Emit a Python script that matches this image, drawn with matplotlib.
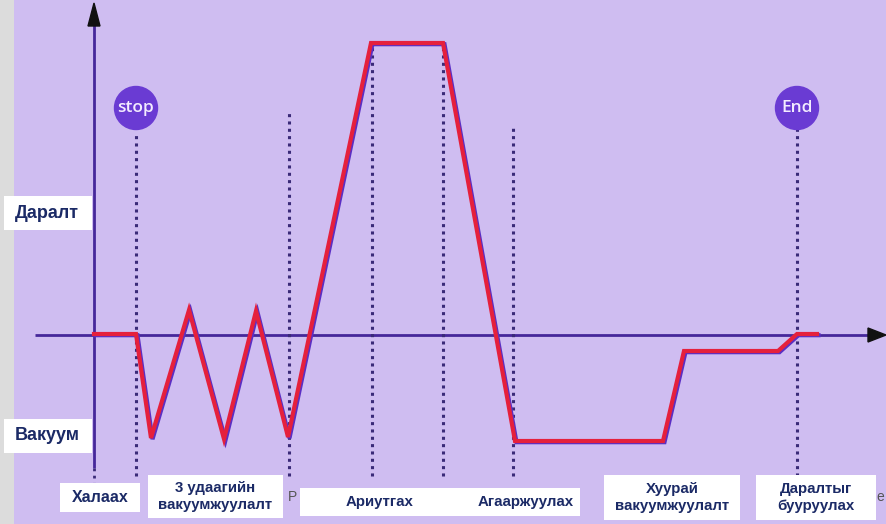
import matplotlib
matplotlib.use("Agg")
import matplotlib.pyplot as plt
from matplotlib.patches import Circle, Rectangle, Polygon

# ---- data (time axis units, pressure relative to atmospheric) ----
time = [0, 42, 57, 95, 130, 162, 194, 277, 349, 421, 569, 590, 684, 703, 723]
pressure = [0, 0, -104, 24, -105, 23, -103, 291, 291, -107, -107, -17, -17, 0, 0]

# phase boundaries (dotted lines): (time, top pressure)
phase_times = [42, 195, 278, 349, 419, 703]
phase_tops = [201, 224, 291, 291, 207, 206]
dotted_bottom = -142

markers = [("stop", 42), ("End", 703)]
marker_level = 226

y_labels = [("Даралт", 121), ("Вакуум", -102)]

# bottom phase labels: (text, box left, box right, box top, box bottom, fontsize)
phase_labels = [
    ("Халаах", -34, 46, -149, -178, 11.5),
    ("3 удаагийн\nвакуумжуулалт", 54, 189, -141, -184, 10.8),
    ("Хуурай\nвакуумжуулалт", 510, 646, -141, -186, 10.8),
    ("Даралтыг\nбууруулах", 662, 782, -141, -186, 10.8),
]
wide_box = (206, 486, -154, -182)
wide_texts = [("Ариутгах", 286), ("Агааржуулах", 432)]

BG = "#cfbdf1"
AXIS = "#46279a"
RED = "#e5203c"
SHADOW = "#5b2fc4"
NAVY = "#1b2a66"
DOT = "#3a2a78"
CIRC = "#6a3bd3"

fig = plt.figure(figsize=(8.86, 5.24), dpi=100)
fig.patch.set_facecolor(BG)
ax = fig.add_axes([0, 0, 1, 1])
ax.set_facecolor(BG)
ax.set_xlim(-94, 792)
ax.set_ylim(-190, 334)
ax.axis("off")

# gray strip at left
ax.add_patch(Rectangle((-94, -190), 14, 524, color="#dcdcdc", zorder=0, lw=0))

# axes lines
ax.plot([-59, 775], [-1, -1], color=AXIS, lw=2, zorder=2, solid_capstyle="butt")
ax.add_patch(Polygon([[774, 6], [774, -8], [792, -1]], closed=True, color="#111111", zorder=3))
ax.plot([0, 0], [-134, 310], color=AXIS, lw=2, zorder=2, solid_capstyle="butt")
ax.plot([0, 0], [-134, -150], color=DOT, lw=2, ls=(0, (1, 1.6)), zorder=2)
ax.add_patch(Polygon([[-6, 308], [6, 308], [0, 331]], closed=True, color="#111111", zorder=3))

# dotted phase lines
for t, top in zip(phase_times, phase_tops):
    ax.plot([t, t], [dotted_bottom, top], color=DOT, lw=2.2, ls=(0, (1, 1.4)), zorder=2)

# pressure curve with shadow
ax.plot([t + 1.5 for t in time], [p - 1.2 for p in pressure], color=SHADOW, lw=3.0,
        zorder=3, solid_joinstyle="miter")
ax.plot(time, pressure, color=RED, lw=3.0, zorder=4, solid_joinstyle="miter")

# stop / End markers
for txt, t in markers:
    ax.add_patch(Circle((t, marker_level), 21.5, color=CIRC, zorder=5))
    ax.text(t, marker_level, txt, color="#f3ecff", fontsize=12.5, ha="center", va="center",
            family="Open Sans", fontweight="semibold", zorder=6)

# y labels with white boxes
for txt, p in y_labels:
    ax.add_patch(Rectangle((-90, p - 17), 88, 34, color="white", zorder=5, lw=0))
    ax.text(-79, p, txt, color=NAVY, fontsize=13, fontweight="bold", ha="left", va="center",
            family="Liberation Sans", zorder=6)

# bottom phase labels
for txt, l, r, top, bot, fs in phase_labels:
    ax.add_patch(Rectangle((l, bot), r - l, top - bot, color="white", zorder=5, lw=0))
    ax.text((l + r) / 2, (top + bot) / 2, txt, color=NAVY, fontsize=fs, fontweight="bold",
            ha="center", va="center", family="Liberation Sans", linespacing=1.2, zorder=6)

l, r, top, bot = wide_box
ax.add_patch(Rectangle((l, bot), r - l, top - bot, color="white", zorder=5, lw=0))
for txt, t in wide_texts:
    ax.text(t, (top + bot) / 2, txt, color=NAVY, fontsize=10.8, fontweight="bold",
            ha="center", va="center", family="Liberation Sans", zorder=6)

# partial gray glyphs seen at the edges of boxes
ax.text(199, -163, "P", color="#555555", fontsize=10, ha="center", va="center",
        family="Liberation Sans", zorder=4)
ax.text(786, -163, "e", color="#555555", fontsize=10, ha="center", va="center",
        family="Liberation Sans", zorder=4)

fig.savefig("out.png", dpi=100, facecolor=BG)
